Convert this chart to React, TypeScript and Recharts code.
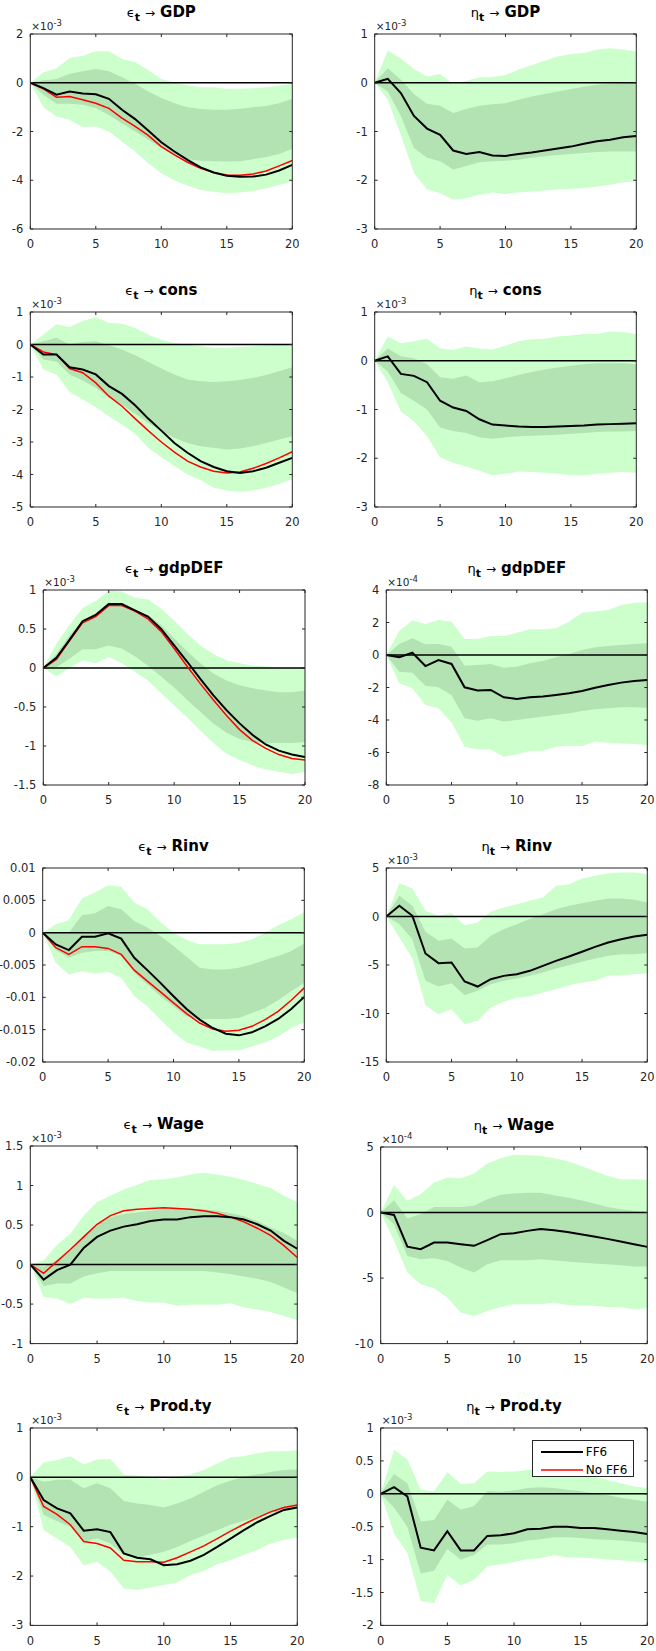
import React from 'react';
import { ComposedChart, Area, Line, XAxis, YAxis, ReferenceLine, Legend } from 'recharts';

const FONT = '"DejaVu Sans", Verdana, sans-serif';
const AXIS = '#262626';
const OUTER = '#ccffcc';
const INNER = '#b3e2b3';

const horizon = [0, 1, 2, 3, 4, 5, 6, 7, 8, 9, 10, 11, 12, 13, 14, 15, 16, 17, 18, 19, 20];
const xTicks = [0, 5, 10, 15, 20];

// ---- epsilon -> GDP (x1e-3)
const gdpEpsBlack = [0, -0.22, -0.49, -0.36, -0.44, -0.47, -0.66, -1.11, -1.49, -1.96, -2.44, -2.82, -3.16, -3.47, -3.68, -3.82, -3.86, -3.85, -3.77, -3.6, -3.37];
const gdpEpsRed = [0, -0.25, -0.59, -0.56, -0.7, -0.84, -1.05, -1.45, -1.79, -2.16, -2.62, -2.96, -3.26, -3.51, -3.68, -3.78, -3.79, -3.74, -3.62, -3.41, -3.19];
const gdpEpsOuterHi = [0, 0.42, 0.6, 1.01, 1.11, 1.29, 1.29, 0.97, 0.85, 0.51, 0.15, 0.01, -0.1, -0.18, -0.18, -0.26, -0.25, -0.23, -0.18, -0.12, -0.04];
const gdpEpsOuterLo = [0, -1.0, -1.38, -1.52, -1.82, -1.79, -2.0, -2.41, -2.82, -3.3, -3.71, -4.0, -4.23, -4.4, -4.47, -4.53, -4.5, -4.44, -4.34, -4.2, -4.05];
const gdpEpsInnerHi = [0, 0.1, 0.15, 0.37, 0.47, 0.56, 0.47, 0.23, -0.04, -0.36, -0.63, -0.84, -1.0, -1.08, -1.11, -1.11, -1.07, -1.0, -0.95, -0.84, -0.66];
const gdpEpsInnerLo = [0, -0.49, -0.86, -0.86, -0.9, -1.04, -1.32, -1.66, -2.0, -2.34, -2.68, -2.96, -3.14, -3.2, -3.22, -3.23, -3.22, -3.14, -3.05, -2.92, -2.71];

// ---- eta -> GDP (x1e-3)
const gdpEtaBlack = [0, 0.08, -0.21, -0.68, -0.94, -1.07, -1.39, -1.46, -1.42, -1.49, -1.5, -1.46, -1.43, -1.39, -1.35, -1.31, -1.25, -1.2, -1.17, -1.12, -1.09];
const gdpEtaOuterHi = [0, 0.66, 0.5, 0.28, 0.13, 0.18, -0.02, 0.04, 0.11, 0.12, 0.16, 0.27, 0.36, 0.45, 0.54, 0.59, 0.61, 0.68, 0.71, 0.68, 0.64];
const gdpEtaOuterLo = [0, -0.35, -1.07, -1.85, -2.19, -2.26, -2.4, -2.37, -2.3, -2.25, -2.28, -2.25, -2.23, -2.21, -2.19, -2.18, -2.16, -2.13, -2.09, -2.04, -2.02];
const gdpEtaInnerHi = [0, 0.3, 0.06, -0.23, -0.43, -0.47, -0.62, -0.54, -0.47, -0.44, -0.42, -0.35, -0.28, -0.23, -0.18, -0.13, -0.08, -0.04, -0.02, -0.01, -0.01];
const gdpEtaInnerLo = [0, -0.18, -0.68, -1.34, -1.54, -1.61, -1.78, -1.71, -1.63, -1.61, -1.6, -1.58, -1.54, -1.51, -1.48, -1.46, -1.44, -1.42, -1.41, -1.41, -1.41];

// ---- epsilon -> cons (x1e-3)
const consEpsBlack = [0, -0.31, -0.31, -0.7, -0.77, -0.92, -1.28, -1.52, -1.87, -2.28, -2.65, -3.03, -3.33, -3.59, -3.77, -3.9, -3.95, -3.9, -3.79, -3.64, -3.49];
const consEpsRed = [0, -0.23, -0.31, -0.74, -0.87, -1.18, -1.59, -1.9, -2.28, -2.65, -3.0, -3.31, -3.59, -3.77, -3.9, -3.95, -3.92, -3.81, -3.66, -3.49, -3.3];
const consEpsOuterHi = [0, 0.31, 0.62, 0.54, 0.72, 0.84, 0.67, 0.64, 0.51, 0.31, 0.15, 0.05, 0, -0.05, -0.1, -0.1, -0.08, -0.05, -0.02, 0, 0.02];
const consEpsOuterLo = [0, -0.77, -0.92, -1.46, -1.69, -1.93, -2.21, -2.46, -2.75, -3.18, -3.47, -3.74, -4.0, -4.18, -4.41, -4.49, -4.53, -4.49, -4.41, -4.29, -4.15];
const consEpsInnerHi = [0, 0.1, 0.21, 0, 0.08, 0.1, -0.02, -0.15, -0.33, -0.53, -0.74, -0.92, -1.08, -1.13, -1.15, -1.13, -1.09, -1.03, -0.94, -0.82, -0.7];
const consEpsInnerLo = [0, -0.46, -0.53, -0.92, -1.11, -1.33, -1.64, -1.85, -2.13, -2.41, -2.67, -2.87, -3.03, -3.13, -3.18, -3.23, -3.2, -3.13, -3.03, -2.92, -2.82];

// ---- eta -> cons (x1e-3)
const consEtaBlack = [0, 0.09, -0.27, -0.31, -0.44, -0.82, -0.96, -1.03, -1.2, -1.31, -1.33, -1.35, -1.36, -1.36, -1.35, -1.34, -1.33, -1.31, -1.3, -1.29, -1.28];
const consEtaOuterHi = [0, 0.5, 0.36, 0.4, 0.45, 0.25, 0.22, 0.29, 0.25, 0.23, 0.31, 0.4, 0.44, 0.45, 0.5, 0.52, 0.55, 0.55, 0.6, 0.59, 0.55];
const consEtaOuterLo = [0, -0.44, -1.04, -1.24, -1.55, -1.98, -2.09, -2.17, -2.25, -2.35, -2.32, -2.27, -2.28, -2.3, -2.32, -2.35, -2.35, -2.32, -2.3, -2.28, -2.3];
const consEtaInnerHi = [0, 0.25, 0.09, 0.05, -0.07, -0.34, -0.37, -0.3, -0.44, -0.42, -0.36, -0.29, -0.23, -0.18, -0.14, -0.1, -0.07, -0.05, -0.05, -0.05, -0.07];
const consEtaInnerLo = [0, -0.22, -0.66, -0.82, -1.0, -1.37, -1.44, -1.48, -1.57, -1.6, -1.57, -1.55, -1.54, -1.53, -1.52, -1.5, -1.48, -1.46, -1.45, -1.45, -1.44];

// ---- epsilon -> gdpDEF (x1e-3)
const defEpsBlack = [0, 0.13, 0.36, 0.6, 0.68, 0.82, 0.82, 0.74, 0.66, 0.5, 0.29, 0.08, -0.14, -0.35, -0.54, -0.71, -0.86, -0.98, -1.06, -1.11, -1.14];
const defEpsRed = [0, 0.11, 0.35, 0.58, 0.66, 0.8, 0.8, 0.73, 0.63, 0.47, 0.25, 0.02, -0.2, -0.41, -0.61, -0.79, -0.93, -1.03, -1.11, -1.16, -1.18];
const defEpsOuterHi = [0, 0.31, 0.55, 0.77, 0.86, 0.99, 0.98, 0.9, 0.88, 0.76, 0.61, 0.44, 0.29, 0.18, 0.1, 0.06, 0.03, 0.02, 0.01, 0, 0];
const defEpsOuterLo = [0, -0.11, 0, 0.1, 0.06, 0.14, 0.06, -0.05, -0.16, -0.32, -0.48, -0.63, -0.8, -0.96, -1.1, -1.18, -1.25, -1.3, -1.33, -1.36, -1.33];
const defEpsInnerHi = [0, 0.18, 0.42, 0.61, 0.7, 0.82, 0.8, 0.73, 0.68, 0.55, 0.38, 0.21, 0.06, -0.07, -0.16, -0.22, -0.26, -0.29, -0.31, -0.31, -0.29];
const defEpsInnerLo = [0, 0.01, 0.12, 0.24, 0.24, 0.29, 0.25, 0.15, 0.03, -0.11, -0.25, -0.41, -0.56, -0.71, -0.83, -0.91, -0.95, -0.96, -0.96, -0.96, -0.95];

// ---- eta -> gdpDEF (x1e-4)
const defEtaBlack = [0, -0.14, 0.14, -0.68, -0.31, -0.55, -1.99, -2.19, -2.15, -2.6, -2.71, -2.6, -2.56, -2.46, -2.36, -2.22, -2.01, -1.85, -1.7, -1.6, -1.54];
const defEtaOuterHi = [0, 1.5, 2.12, 1.91, 2.15, 2.05, 0.98, 0.98, 1.17, 1.17, 1.37, 1.58, 1.58, 1.64, 2.05, 2.6, 2.67, 2.77, 3.08, 3.22, 3.24];
const defEtaOuterLo = [0, -1.74, -2.05, -3.08, -3.28, -4.16, -5.64, -5.81, -5.81, -6.26, -6.11, -5.91, -5.89, -5.64, -5.58, -5.6, -5.33, -5.4, -5.44, -5.48, -5.54];
const defEtaInnerHi = [0, 0.68, 1.03, 0.66, 0.68, 0.51, -0.66, -0.62, -0.55, -0.78, -0.72, -0.51, -0.37, -0.14, 0.06, 0.31, 0.47, 0.55, 0.62, 0.68, 0.72];
const defEtaInnerLo = [0, -1.03, -1.09, -1.89, -1.99, -2.46, -3.9, -4.04, -3.9, -4.1, -4.0, -3.9, -3.79, -3.69, -3.59, -3.45, -3.34, -3.28, -3.22, -3.22, -3.24];

// ---- epsilon -> Rinv (raw units)
const rinvEpsBlack = [0, -0.00181, -0.00269, -0.00062, -0.00062, -0.0001, -0.00093, -0.00388, -0.00579, -0.00776, -0.00983, -0.0118, -0.01345, -0.01474, -0.01562, -0.01588, -0.01541, -0.01448, -0.01335, -0.0118, -0.00993];
const rinvEpsRed = [0, -0.00233, -0.00336, -0.00217, -0.00217, -0.00243, -0.00336, -0.00579, -0.0075, -0.00916, -0.01086, -0.01252, -0.01397, -0.0149, -0.01526, -0.0151, -0.01448, -0.01345, -0.01216, -0.01045, -0.00854];
const rinvEpsOuterHi = [0, 0.00129, 0.00197, 0.00528, 0.00621, 0.00735, 0.00709, 0.00466, 0.00362, 0.00166, 0, -0.00114, -0.00181, -0.00181, -0.00181, -0.00155, -0.00103, 0, 0.00114, 0.00207, 0.00321];
const rinvEpsOuterLo = [0, -0.00466, -0.00647, -0.00595, -0.00631, -0.00605, -0.00698, -0.00983, -0.01138, -0.01345, -0.01541, -0.01697, -0.01759, -0.01826, -0.01821, -0.01821, -0.01759, -0.01697, -0.01604, -0.01474, -0.01386];
const rinvEpsInnerHi = [0, 0.0001, 0, 0.00269, 0.003, 0.00414, 0.00362, 0.00181, 0.00078, -0.00052, -0.00207, -0.00372, -0.00543, -0.00569, -0.00569, -0.00543, -0.00491, -0.00424, -0.00362, -0.00285, -0.00166];
const rinvEpsInnerLo = [0, -0.00269, -0.00388, -0.0031, -0.00285, -0.00285, -0.00362, -0.00621, -0.00802, -0.00983, -0.01138, -0.01293, -0.01335, -0.01335, -0.01335, -0.01319, -0.01241, -0.01164, -0.01045, -0.00905, -0.00776];

// ---- eta -> Rinv (x1e-3)
const rinvEtaBlack = [0, 1.1, 0.07, -3.81, -4.81, -4.74, -6.7, -7.22, -6.46, -6.12, -5.95, -5.6, -5.09, -4.57, -4.12, -3.64, -3.13, -2.68, -2.34, -2.06, -1.89];
const rinvEtaOuterHi = [0, 3.44, 2.89, 0.58, 0.07, 0.34, -0.89, -0.62, 0.48, 0.93, 1.27, 1.62, 1.96, 3.16, 3.33, 3.92, 4.19, 4.47, 4.54, 4.54, 4.36];
const rinvEtaOuterLo = [0, -2.16, -4.33, -9.14, -10.07, -9.55, -11.1, -10.76, -9.38, -8.8, -8.35, -8.25, -7.84, -7.49, -7.08, -6.8, -6.63, -6.12, -6.05, -5.95, -5.84];
const rinvEtaInnerHi = [0, 2.13, 1.1, -1.58, -2.51, -2.27, -3.3, -3.2, -1.99, -1.31, -0.79, -0.27, 0.24, 0.76, 1.1, 1.37, 1.62, 1.86, 1.86, 1.72, 1.44];
const rinvEtaInnerLo = [0, -0.79, -2.34, -6.63, -7.22, -6.87, -8.11, -7.66, -6.98, -6.63, -6.39, -6.12, -5.77, -5.36, -5.02, -4.67, -4.33, -4.05, -3.88, -3.88, -3.78];

// ---- epsilon -> Wage (x1e-3)
const wageEpsBlack = [0, -0.19, -0.07, 0, 0.21, 0.35, 0.43, 0.48, 0.51, 0.55, 0.57, 0.57, 0.6, 0.61, 0.61, 0.6, 0.57, 0.51, 0.43, 0.3, 0.2];
const wageEpsRed = [0, -0.11, 0.04, 0.19, 0.35, 0.51, 0.62, 0.68, 0.7, 0.71, 0.72, 0.71, 0.7, 0.68, 0.65, 0.6, 0.54, 0.46, 0.37, 0.24, 0.09];
const wageEpsOuterHi = [0, 0.05, 0.25, 0.39, 0.62, 0.79, 0.87, 0.95, 1.01, 1.07, 1.08, 1.1, 1.14, 1.16, 1.14, 1.11, 1.07, 1.02, 0.97, 0.87, 0.79];
const wageEpsOuterLo = [0, -0.41, -0.43, -0.5, -0.42, -0.43, -0.43, -0.42, -0.46, -0.48, -0.48, -0.52, -0.51, -0.51, -0.51, -0.49, -0.54, -0.57, -0.6, -0.65, -0.7];
const wageEpsInnerHi = [0, -0.03, 0.06, 0.18, 0.37, 0.51, 0.6, 0.64, 0.66, 0.68, 0.7, 0.7, 0.7, 0.7, 0.68, 0.65, 0.61, 0.55, 0.47, 0.4, 0.3];
const wageEpsInnerLo = [0, -0.27, -0.24, -0.24, -0.15, -0.11, -0.08, -0.08, -0.08, -0.08, -0.08, -0.08, -0.08, -0.08, -0.1, -0.12, -0.15, -0.18, -0.22, -0.29, -0.36];

// ---- eta -> Wage (x1e-4)
const wageEtaBlack = [0, -0.18, -2.6, -2.8, -2.29, -2.29, -2.42, -2.54, -2.11, -1.65, -1.58, -1.4, -1.25, -1.35, -1.48, -1.65, -1.83, -2.01, -2.21, -2.42, -2.62];
const wageEtaOuterHi = [0, 2.11, 0.89, 1.4, 2.29, 2.67, 2.62, 2.98, 3.74, 4.15, 4.4, 4.38, 4.33, 4.15, 3.94, 3.56, 3.18, 2.8, 2.54, 2.54, 2.49];
const wageEtaOuterLo = [0, -2.16, -4.58, -5.47, -5.78, -6.49, -7.63, -7.89, -7.51, -7.2, -7.0, -7.0, -7.0, -6.87, -7.05, -7.12, -7.12, -7.2, -7.2, -7.38, -7.3];
const wageEtaInnerHi = [0, 0.94, -0.43, -0.13, 0.43, 0.43, 0.43, 0.51, 1.02, 1.35, 1.45, 1.5, 1.5, 1.32, 1.15, 0.94, 0.69, 0.43, 0.25, 0.13, 0.05];
const wageEtaInnerLo = [0, -0.89, -3.31, -3.56, -3.49, -3.69, -4.2, -4.58, -3.94, -3.64, -3.64, -3.64, -3.56, -3.64, -3.74, -3.82, -3.89, -3.94, -4.02, -4.12, -4.12];

// ---- epsilon -> Prod.ty (x1e-3)
const prodEpsBlack = [0, -0.46, -0.63, -0.73, -1.08, -1.05, -1.11, -1.54, -1.63, -1.66, -1.78, -1.76, -1.69, -1.57, -1.41, -1.24, -1.07, -0.91, -0.78, -0.66, -0.61];
const prodEpsRed = [0, -0.59, -0.75, -0.96, -1.3, -1.34, -1.43, -1.68, -1.71, -1.71, -1.72, -1.63, -1.51, -1.39, -1.24, -1.09, -0.95, -0.82, -0.7, -0.61, -0.56];
const prodEpsOuterHi = [0, 0.3, 0.35, 0.43, 0.26, 0.36, 0.37, 0.06, 0.03, 0.01, -0.05, 0.01, 0.06, 0.15, 0.28, 0.4, 0.43, 0.49, 0.53, 0.53, 0.55];
const prodEpsOuterLo = [0, -1.07, -1.24, -1.41, -1.78, -1.71, -1.91, -2.25, -2.28, -2.23, -2.18, -2.13, -1.98, -1.9, -1.76, -1.68, -1.57, -1.47, -1.34, -1.27, -1.22];
const prodEpsInnerHi = [0, -0.09, -0.05, -0.05, -0.22, -0.12, -0.22, -0.48, -0.53, -0.56, -0.61, -0.53, -0.43, -0.29, -0.16, -0.07, 0.01, 0.06, 0.11, 0.15, 0.16];
const prodEpsInnerLo = [0, -0.76, -0.89, -1.0, -1.3, -1.24, -1.34, -1.57, -1.63, -1.57, -1.51, -1.41, -1.29, -1.18, -1.07, -0.96, -0.88, -0.8, -0.73, -0.66, -0.61];

// ---- eta -> Prod.ty (x1e-3)
const prodEtaBlack = [0, 0.1, -0.04, -0.82, -0.86, -0.57, -0.86, -0.86, -0.64, -0.63, -0.6, -0.54, -0.53, -0.5, -0.5, -0.52, -0.52, -0.54, -0.56, -0.58, -0.61];
const prodEtaOuterHi = [0, 0.67, 0.52, 0.06, 0.04, 0.33, 0.15, 0.16, 0.34, 0.33, 0.34, 0.36, 0.38, 0.38, 0.34, 0.3, 0.26, 0.21, 0.16, 0.11, 0.09];
const prodEtaOuterLo = [0, -0.6, -0.9, -1.63, -1.66, -1.23, -1.39, -1.31, -1.1, -1.07, -1.04, -0.99, -0.98, -0.93, -0.97, -0.97, -0.98, -1.0, -1.01, -1.03, -1.05];
const prodEtaInnerHi = [0, 0.3, 0.16, -0.42, -0.4, -0.09, -0.24, -0.19, 0.04, 0.03, 0.05, 0.09, 0.1, 0.09, 0.06, 0.04, 0.01, -0.02, -0.06, -0.09, -0.12];
const prodEtaInnerLo = [0, -0.21, -0.5, -1.21, -1.17, -0.84, -1.0, -0.93, -0.77, -0.77, -0.75, -0.71, -0.69, -0.66, -0.66, -0.67, -0.69, -0.7, -0.71, -0.73, -0.75];

// ---- tick labels
const ticksGdpEps = [-6, -4, -2, 0, 2];
const ticksGdpEta = [-3, -2, -1, 0, 1];
const ticksConsEps = [-5, -4, -3, -2, -1, 0, 1];
const ticksConsEta = [-3, -2, -1, 0, 1];
const ticksDefEps = [-1.5, -1, -0.5, 0, 0.5, 1];
const ticksDefEta = [-8, -6, -4, -2, 0, 2, 4];
const ticksRinvEps = [-0.02, -0.015, -0.01, -0.005, 0, 0.005, 0.01];
const ticksRinvEta = [-15, -10, -5, 0, 5];
const ticksWageEps = [-1, -0.5, 0, 0.5, 1, 1.5];
const ticksWageEta = [-10, -5, 0, 5];
const ticksProdEps = [-3, -2, -1, 0, 1];
const ticksProdEta = [-2, -1.5, -1, -0.5, 0, 0.5, 1];

const legendLabels = ['FF6', 'No FF6'];

type Panel = {
  shock: string; name: string; exp: string | null;
  left: number; right: number; top: number; bottom: number;
  ticks: number[];
  black: number[]; red?: number[];
  outerHi: number[]; outerLo: number[]; innerHi: number[]; innerLo: number[];
  legend?: boolean;
};

const EPS = '\u03F5';
const ETA = '\u03B7';

const panels: Panel[] = [
  { shock: EPS, name: 'GDP', exp: '-3', left: 30.3, right: 292.3, top: 34.3, bottom: 229.3, ticks: ticksGdpEps, black: gdpEpsBlack, red: gdpEpsRed, outerHi: gdpEpsOuterHi, outerLo: gdpEpsOuterLo, innerHi: gdpEpsInnerHi, innerLo: gdpEpsInnerLo },
  { shock: ETA, name: 'GDP', exp: '-3', left: 374.7, right: 636.3, top: 34.3, bottom: 229.3, ticks: ticksGdpEta, black: gdpEtaBlack, outerHi: gdpEtaOuterHi, outerLo: gdpEtaOuterLo, innerHi: gdpEtaInnerHi, innerLo: gdpEtaInnerLo },
  { shock: EPS, name: 'cons', exp: '-3', left: 30.3, right: 292.3, top: 312.3, bottom: 507.3, ticks: ticksConsEps, black: consEpsBlack, red: consEpsRed, outerHi: consEpsOuterHi, outerLo: consEpsOuterLo, innerHi: consEpsInnerHi, innerLo: consEpsInnerLo },
  { shock: ETA, name: 'cons', exp: '-3', left: 374.7, right: 636.3, top: 312.3, bottom: 507.3, ticks: ticksConsEta, black: consEtaBlack, outerHi: consEtaOuterHi, outerLo: consEtaOuterLo, innerHi: consEtaInnerHi, innerLo: consEtaInnerLo },
  { shock: EPS, name: 'gdpDEF', exp: '-3', left: 43.3, right: 305, top: 590, bottom: 785, ticks: ticksDefEps, black: defEpsBlack, red: defEpsRed, outerHi: defEpsOuterHi, outerLo: defEpsOuterLo, innerHi: defEpsInnerHi, innerLo: defEpsInnerLo },
  { shock: ETA, name: 'gdpDEF', exp: '-4', left: 386.3, right: 647.3, top: 590, bottom: 785, ticks: ticksDefEta, black: defEtaBlack, outerHi: defEtaOuterHi, outerLo: defEtaOuterLo, innerHi: defEtaInnerHi, innerLo: defEtaInnerLo },
  { shock: EPS, name: 'Rinv', exp: null, left: 42.7, right: 304.3, top: 868.3, bottom: 1062.3, ticks: ticksRinvEps, black: rinvEpsBlack, red: rinvEpsRed, outerHi: rinvEpsOuterHi, outerLo: rinvEpsOuterLo, innerHi: rinvEpsInnerHi, innerLo: rinvEpsInnerLo },
  { shock: ETA, name: 'Rinv', exp: '-3', left: 386.3, right: 647.3, top: 868.3, bottom: 1062.3, ticks: ticksRinvEta, black: rinvEtaBlack, outerHi: rinvEtaOuterHi, outerLo: rinvEtaOuterLo, innerHi: rinvEtaInnerHi, innerLo: rinvEtaInnerLo },
  { shock: EPS, name: 'Wage', exp: '-3', left: 30.3, right: 297.3, top: 1145.7, bottom: 1343.3, ticks: ticksWageEps, black: wageEpsBlack, red: wageEpsRed, outerHi: wageEpsOuterHi, outerLo: wageEpsOuterLo, innerHi: wageEpsInnerHi, innerLo: wageEpsInnerLo },
  { shock: ETA, name: 'Wage', exp: '-4', left: 380.7, right: 647.3, top: 1146.7, bottom: 1343.3, ticks: ticksWageEta, black: wageEtaBlack, outerHi: wageEtaOuterHi, outerLo: wageEtaOuterLo, innerHi: wageEtaInnerHi, innerLo: wageEtaInnerLo },
  { shock: EPS, name: 'Prod.ty', exp: '-3', left: 30.3, right: 297.3, top: 1428.3, bottom: 1625.7, ticks: ticksProdEps, black: prodEpsBlack, red: prodEpsRed, outerHi: prodEpsOuterHi, outerLo: prodEpsOuterLo, innerHi: prodEpsInnerHi, innerLo: prodEpsInnerLo },
  { shock: ETA, name: 'Prod.ty', exp: '-3', left: 380.7, right: 647.3, top: 1428.3, bottom: 1625.7, ticks: ticksProdEta, black: prodEtaBlack, outerHi: prodEtaOuterHi, outerLo: prodEtaOuterLo, innerHi: prodEtaInnerHi, innerLo: prodEtaInnerLo, legend: true },
];

const blank = () => '';

function LegendBox() {
  return (
    <div style={{ position: 'relative', width: 102, height: 37, border: `1px solid ${AXIS}`, background: '#fff', boxSizing: 'border-box', fontFamily: FONT, fontSize: 12, color: '#000' }}>
      {legendLabels.map((lab, i) => (
        <div key={lab} style={{ position: 'absolute', left: 0, top: i === 0 ? 4 : 22, height: 14, width: 100 }}>
          <svg width={44} height={14} style={{ position: 'absolute', left: 7, top: 0 }}>
            <line x1={1} x2={43} y1={7} y2={7} stroke={i === 0 ? '#000' : '#ff0000'} strokeWidth={i === 0 ? 2 : 1.5} />
          </svg>
          <span style={{ position: 'absolute', left: 53, top: 0, lineHeight: '14px', whiteSpace: 'nowrap' }}>{lab}</span>
        </div>
      ))}
    </div>
  );
}

function IrfPanel({ p }: { p: Panel }) {
  const colLeft = p.left < 328 ? 0 : 328;
  const yW = p.left - colLeft;
  const plotW = p.right - p.left;
  const plotH = p.bottom - p.top;
  const topPad = 6;
  const xH = 26;
  const rPad = 6;
  const width = yW + plotW + 1 + rPad;
  const height = topPad + 1 + plotH + xH;
  const chartTop = p.top - topPad - 1;
  const domain: [number, number] = [p.ticks[0], p.ticks[p.ticks.length - 1]];
  const data = horizon.map((h, i) => ({
    h,
    outer: [p.outerLo[i], p.outerHi[i]],
    inner: [p.innerLo[i], p.innerHi[i]],
    black: p.black[i],
    red: p.red ? p.red[i] : null,
  }));
  const tickStyle = { fontSize: 11.5, fill: AXIS, fontFamily: FONT };
  return (
    <>
      <div style={{ position: 'absolute', left: p.left, width: plotW, top: p.top - 30, height: 17, textAlign: 'center', fontFamily: FONT, fontSize: 15, lineHeight: '17px', fontWeight: 'bold', color: '#000', whiteSpace: 'nowrap' }}>
        <span style={{ fontWeight: 'normal', fontSize: 13 }}>{p.shock}</span>
        <span style={{ position: 'relative', top: 4, fontSize: 11, fontWeight: 'bold' }}>t</span>
        <span style={{ fontWeight: 'normal', fontSize: 12, margin: '0 5px' }}>{'\u2192'}</span>
        <span>{p.name}</span>
      </div>
      {p.exp && (
        <div style={{ position: 'absolute', left: p.left + 1, top: p.top - 14, height: 12, fontFamily: FONT, fontSize: 10.5, lineHeight: '12px', color: AXIS, whiteSpace: 'nowrap' }}>
          <span>{'\u00D710'}</span>
          <span style={{ position: 'relative', top: -4, fontSize: 8.5 }}>{p.exp}</span>
        </div>
      )}
      <div style={{ position: 'absolute', left: colLeft, top: chartTop }}>
        <ComposedChart width={width} height={height} data={data} margin={{ top: topPad, right: rPad, bottom: 0, left: 0 }}>
          <XAxis dataKey="h" type="number" domain={[0, 20]} ticks={xTicks} allowDataOverflow height={xH}
            stroke={AXIS} tickSize={-3} tickMargin={14} tick={tickStyle} interval={0} />
          <XAxis xAxisId="top" orientation="top" dataKey="h" type="number" domain={[0, 20]} ticks={xTicks} allowDataOverflow height={1}
            stroke={AXIS} tickSize={-3} tickFormatter={blank} interval={0} />
          <YAxis type="number" domain={domain} ticks={p.ticks} allowDataOverflow width={yW}
            stroke={AXIS} tickSize={-3} tickMargin={10} tick={tickStyle} interval={0} />
          <YAxis yAxisId="right" orientation="right" type="number" domain={domain} ticks={p.ticks} allowDataOverflow width={1}
            stroke={AXIS} tickSize={-3} tickFormatter={blank} interval={0} />
          <Area dataKey="outer" type="linear" stroke="none" fill={OUTER} fillOpacity={1} isAnimationActive={false} />
          <Area dataKey="inner" type="linear" stroke="none" fill={INNER} fillOpacity={1} isAnimationActive={false} />
          <ReferenceLine y={0} stroke="#000" strokeWidth={1.5} />
          {p.red && <Line dataKey="red" type="linear" stroke="#ff0000" strokeWidth={1.5} dot={false} isAnimationActive={false} />}
          <Line dataKey="black" type="linear" stroke="#000" strokeWidth={2} dot={false} isAnimationActive={false} />
          {p.legend && (
            <Legend layout="vertical" align="center" verticalAlign="middle"
              wrapperStyle={{ left: p.right - 115.5 - colLeft, top: p.top + 11.7 - chartTop, width: 102, height: 37 }}
              content={() => <LegendBox />} />
          )}
        </ComposedChart>
      </div>
    </>
  );
}

export default function App() {
  return (
    <div style={{ position: 'absolute', left: 0, top: 0, width: 656, height: 1651, background: '#fff', fontFamily: FONT }}>
      {panels.map((p, i) => <IrfPanel key={i} p={p} />)}
    </div>
  );
}
